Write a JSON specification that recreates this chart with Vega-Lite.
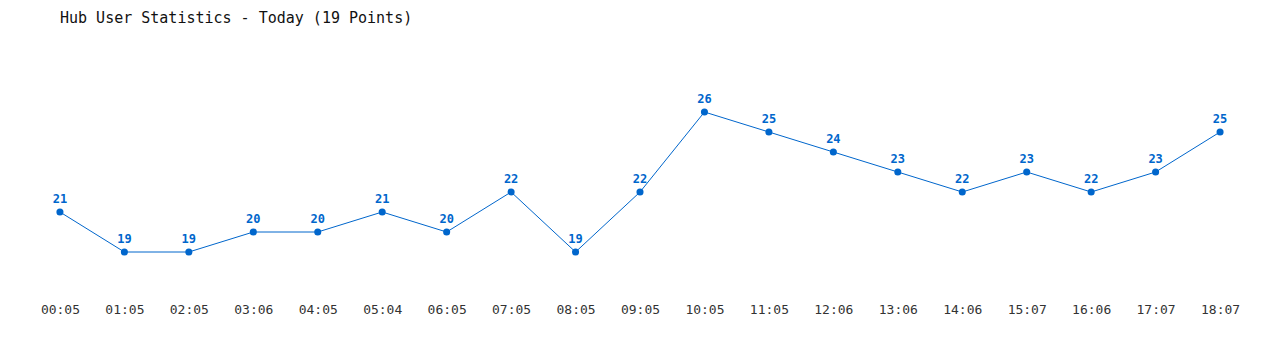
{
  "$schema": "https://vega.github.io/schema/vega-lite/v6.json",
  "width": 1280,
  "height": 266,
  "autosize": {"type": "none"},
  "padding": {"top": 30, "left": 0, "right": 0, "bottom": 54},
  "background": "white",
  "title": {
    "text": "Hub User Statistics - Today (19 Points)",
    "anchor": "start",
    "dx": 60,
    "offset": 4,
    "font": "DejaVu Sans Mono",
    "fontSize": 15,
    "fontWeight": "normal",
    "color": "#111111"
  },
  "data": {
    "values": [
      {"time": "00:05", "users": 21},
      {"time": "01:05", "users": 19},
      {"time": "02:05", "users": 19},
      {"time": "03:06", "users": 20},
      {"time": "04:05", "users": 20},
      {"time": "05:04", "users": 21},
      {"time": "06:05", "users": 20},
      {"time": "07:05", "users": 22},
      {"time": "08:05", "users": 19},
      {"time": "09:05", "users": 22},
      {"time": "10:05", "users": 26},
      {"time": "11:05", "users": 25},
      {"time": "12:06", "users": 24},
      {"time": "13:06", "users": 23},
      {"time": "14:06", "users": 22},
      {"time": "15:07", "users": 23},
      {"time": "16:06", "users": 22},
      {"time": "17:07", "users": 23},
      {"time": "18:07", "users": 25}
    ]
  },
  "encoding": {
    "x": {
      "field": "time",
      "type": "ordinal",
      "sort": null,
      "scale": {"type": "point", "padding": 0.93},
      "axis": {
        "title": null,
        "domain": false,
        "ticks": false,
        "grid": false,
        "labelAngle": 0,
        "labelPadding": 7,
        "labelFont": "DejaVu Sans Mono",
        "labelFontSize": 13,
        "labelColor": "#333333"
      }
    },
    "y": {
      "field": "users",
      "type": "quantitative",
      "scale": {"domain": [16.8, 30.1], "nice": false, "zero": false},
      "axis": null
    }
  },
  "layer": [
    {"mark": {"type": "line", "color": "#0066cc", "strokeWidth": 1}},
    {"mark": {"type": "circle", "color": "#0066cc", "opacity": 1, "size": 50}},
    {
      "mark": {
        "type": "text",
        "color": "#0066cc",
        "font": "DejaVu Sans Mono",
        "fontSize": 12,
        "fontWeight": "bold",
        "baseline": "alphabetic",
        "dy": -9
      },
      "encoding": {"text": {"field": "users", "type": "quantitative"}}
    }
  ],
  "config": {"view": {"stroke": null}}
}
